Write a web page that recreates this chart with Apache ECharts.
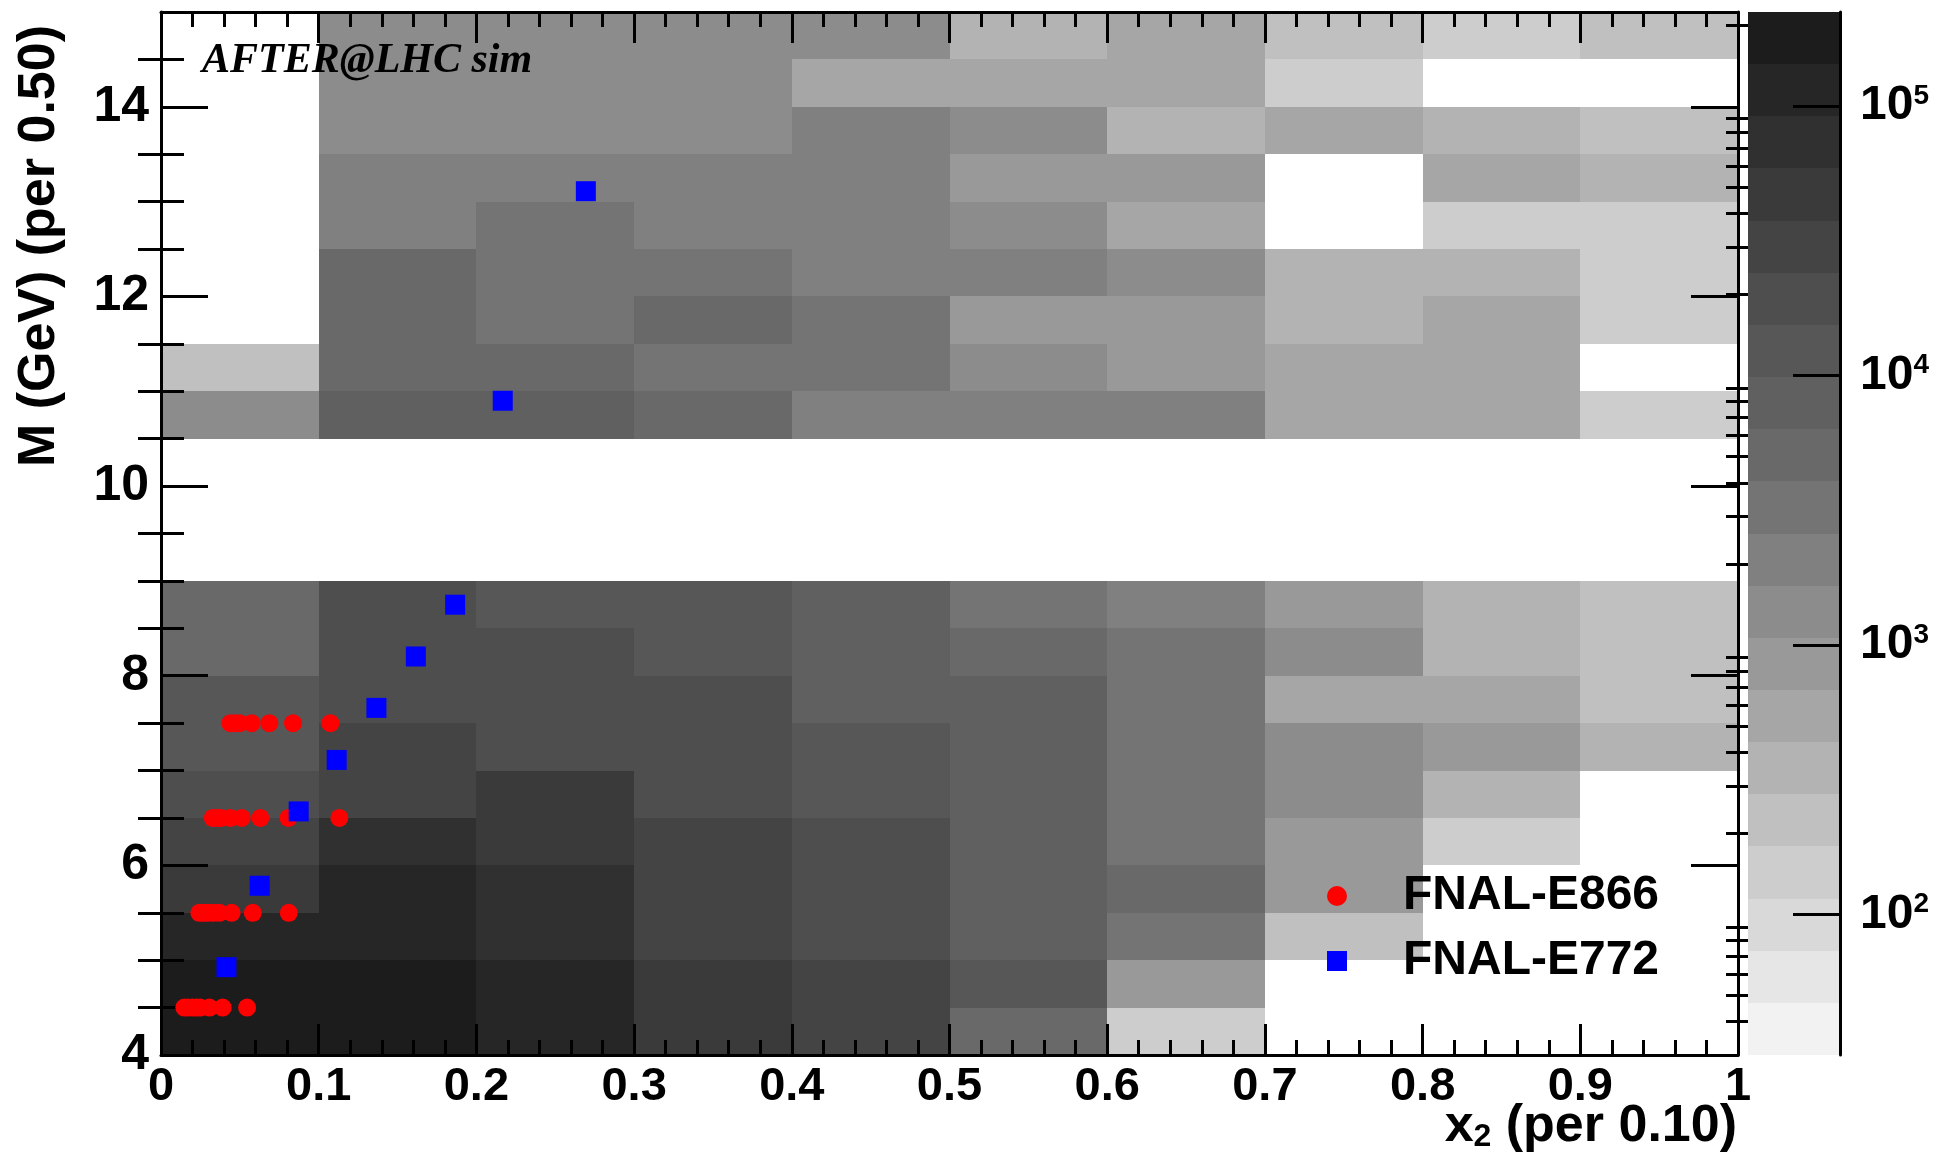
<!DOCTYPE html>
<html>
<head>
<meta charset="utf-8">
<script src="https://cdn.jsdelivr.net/npm/echarts@6/dist/echarts.min.js"></script>
<style>
  html, body { margin: 0; padding: 0; background: #ffffff; }
  #chart { width: 1946px; height: 1159px; }
</style>
</head>
<body>
<div id="chart"></div>
<script>
// ---- 2D histogram binning ----
const x2Edges = [0.0, 0.1, 0.2, 0.3, 0.4, 0.5, 0.6, 0.7, 0.8, 0.9, 1.0];
const massEdges = [4.0, 4.5, 5.0, 5.5, 6.0, 6.5, 7.0, 7.5, 8.0, 8.5, 9.0,
                   9.5, 10.0, 10.5, 11.0, 11.5, 12.0, 12.5, 13.0, 13.5, 14.0, 14.5, 15.0];

// Entries per bin: one row per mass bin (M = 4.0 upwards), one column per x2 bin
const counts = [
  [183000, 176000, 112000, 46000, 29500, 5100, 141, 0, 0, 0],      // 4.0
  [171000, 164000, 109000, 44500, 28800, 12200, 845, 0, 0, 0],     // 4.5
  [118000, 114000, 74500, 30200, 19100, 7800, 3150, 226, 0, 0],    // 5.0
  [47500, 112000, 72800, 29300, 18800, 7950, 5020, 860, 0, 0],     // 5.5
  [30400, 71600, 46200, 29000, 19600, 7700, 3240, 835, 146, 0],    // 6.0
  [19800, 30800, 45700, 18600, 12400, 7850, 3180, 1330, 348, 0],   // 6.5
  [12500, 29700, 19200, 18900, 12100, 7900, 3200, 1310, 850, 352], // 7.0
  [12300, 19500, 18700, 19300, 7950, 7850, 3260, 545, 540, 225],   // 7.5
  [5050, 19200, 18800, 12300, 7900, 5000, 3220, 1320, 355, 222],   // 8.0
  [5150, 19000, 12500, 12200, 8000, 3250, 2070, 840, 345, 220],    // 8.5
  [0, 0, 0, 0, 0, 0, 0, 0, 0, 0],                                  // 9.0
  [0, 0, 0, 0, 0, 0, 0, 0, 0, 0],                                  // 9.5
  [0, 0, 0, 0, 0, 0, 0, 0, 0, 0],                                  // 10.0
  [1330, 7900, 7800, 5080, 2060, 2090, 2040, 550, 542, 143],       // 10.5
  [224, 5060, 5120, 3230, 3190, 1320, 850, 548, 538, 0],           // 11.0
  [0, 5010, 3210, 5090, 3260, 845, 858, 350, 544, 142],            // 11.5
  [0, 5040, 3240, 3200, 2080, 2050, 1310, 348, 352, 140],          // 12.0
  [0, 2070, 3230, 2060, 2080, 1330, 546, 0, 143, 141],             // 12.5
  [0, 2080, 2050, 2070, 2060, 852, 840, 0, 552, 349],              // 13.0
  [0, 1320, 1340, 1310, 2070, 1330, 351, 548, 345, 223],           // 13.5
  [0, 1340, 1320, 1330, 544, 552, 541, 144, 0, 0],                 // 14.0
  [0, 1310, 1330, 1320, 1340, 349, 547, 221, 143, 226]             // 14.5
];

// ---- z colour scale (20 logarithmic contours) ----
const zMin = 30.1;
const zMax = 223400;
const greyLevels = ['#f2f2f2', '#e6e6e6', '#d9d9d9', '#cdcdcd', '#c0c0c0',
                    '#b3b3b3', '#a6a6a6', '#999999', '#8c8c8c', '#808080',
                    '#747474', '#696969', '#606060', '#575757', '#4e4e4e',
                    '#444444', '#3a3a3a', '#303030', '#262626', '#1c1c1c'];
const colorbarMajor = [100, 1000, 10000, 100000];
const colorbarMinor = [40, 50, 60, 70, 80, 90,
                       200, 300, 400, 500, 600, 700, 800, 900,
                       2000, 3000, 4000, 5000, 6000, 7000, 8000, 9000,
                       20000, 30000, 40000, 50000, 60000, 70000, 80000, 90000,
                       200000];

// ---- measurements ----
const e866X2 = [0.0440, 0.0470, 0.0500, 0.0575, 0.0687, 0.0837, 0.1074,
                0.0328, 0.0355, 0.0381, 0.0440, 0.0512, 0.0630, 0.0808, 0.1131,
                0.0243, 0.0268, 0.0296, 0.0330, 0.0370, 0.0448, 0.0582, 0.0810,
                0.0148, 0.0172, 0.0201, 0.0225, 0.0249, 0.0307, 0.0391, 0.0546];
const e866M  = [7.5, 7.5, 7.5, 7.5, 7.5, 7.5, 7.5,
                6.5, 6.5, 6.5, 6.5, 6.5, 6.5, 6.5, 6.5,
                5.5, 5.5, 5.5, 5.5, 5.5, 5.5, 5.5, 5.5,
                4.5, 4.5, 4.5, 4.5, 4.5, 4.5, 4.5, 4.5];
const e772X2 = [0.0415, 0.0626, 0.0873, 0.1114, 0.1366, 0.1616, 0.1865, 0.2167, 0.2694];
const e772M  = [4.926, 5.785, 6.569, 7.112, 7.661, 8.203, 8.749, 10.90, 13.11];

// ---- axis tick positions ----
const massMajorTicks = [4, 6, 8, 10, 12, 14];
const massMinorTicks = [4.5, 5, 5.5, 6.5, 7, 7.5, 8.5, 9, 9.5, 10.5, 11, 11.5,
                        12.5, 13, 13.5, 14.5];

// ---- derived structures ----
const FONT = '"Liberation Sans", Arial, Helvetica, sans-serif';
const logStep = (Math.log10(zMax) - Math.log10(zMin)) / greyLevels.length;
const levelEdges = greyLevels.map((c, k) => Math.pow(10, Math.log10(zMin) + k * logStep))
  .concat([zMax]);

const cellData = [];
counts.forEach((row, iy) => {
  row.forEach((n, ix) => {
    if (n > 0) {
      cellData.push([x2Edges[ix], x2Edges[ix + 1], massEdges[iy], massEdges[iy + 1], n]);
    }
  });
});
const colorbarData = greyLevels.map((c, k) => [k, levelEdges[k], levelEdges[k + 1]]);
const e866Data = e866X2.map((x, i) => [x, e866M[i]]);
const e772Data = e772X2.map((x, i) => [x, e772M[i]]);

const frame = { show: true, onZero: false, lineStyle: { color: '#000', width: 3 } };
const tickStyle = { color: '#000', width: 3 };

function x2Axis(position, showLabels) {
  return {
    type: 'value', gridIndex: 0, position: position, min: 0, max: 1, interval: 0.1,
    z: 3,
    axisLine: frame,
    axisTick: { show: true, inside: true, length: 31, lineStyle: tickStyle },
    minorTick: { show: true, splitNumber: 5, length: 15, lineStyle: tickStyle },
    splitLine: { show: false },
    axisLabel: {
      show: showLabels, margin: 9, color: '#000', fontFamily: FONT,
      fontWeight: 'bold', fontSize: 47,
      formatter: v => (v === 0 ? '0' : v === 1 ? '1' : v.toFixed(1))
    }
  };
}

function massAxis(position, major, showLabels) {
  return {
    type: 'value', gridIndex: 0, position: position, min: 4, max: 15,
    z: 3,
    axisLine: major ? frame : { show: false },
    axisTick: {
      show: true, inside: true, length: major ? 47 : 23, lineStyle: tickStyle,
      customValues: major ? massMajorTicks : massMinorTicks
    },
    splitLine: { show: false },
    axisLabel: {
      show: showLabels, margin: 12, color: '#000', fontFamily: FONT,
      fontWeight: 'bold', fontSize: 50, customValues: massMajorTicks
    }
  };
}

function colorbarAxis(major) {
  return {
    type: 'log', logBase: 10, gridIndex: 1, position: 'right', min: zMin, max: zMax,
    z: 3,
    axisLine: major ? frame : { show: false },
    axisTick: {
      show: true, inside: true, length: major ? 47 : 22, lineStyle: tickStyle,
      customValues: major ? colorbarMajor : colorbarMinor
    },
    splitLine: { show: false },
    axisLabel: {
      show: major, margin: 20, customValues: colorbarMajor,
      formatter: v => '{b|10}{s|' + Math.round(Math.log10(v)) + '}',
      rich: {
        b: { fontFamily: FONT, fontWeight: 'bold', fontSize: 48, lineHeight: 48, color: '#000' },
        s: { fontFamily: FONT, fontWeight: 'bold', fontSize: 28, lineHeight: 20,
             verticalAlign: 'top', color: '#000' }
      }
    }
  };
}

const chart = echarts.init(document.getElementById('chart'), null, { renderer: 'canvas' });

chart.setOption({
  backgroundColor: '#ffffff',
  animation: false,
  grid: [
    { left: 161, top: 12, width: 1577, height: 1043 },
    { left: 1748, top: 12, width: 92, height: 1043 }
  ],
  xAxis: [
    x2Axis('bottom', true),
    x2Axis('top', false),
    { type: 'value', gridIndex: 1, min: 0, max: 1, show: false }
  ],
  yAxis: [
    massAxis('left', true, true),
    massAxis('left', false, false),
    massAxis('right', true, false),
    massAxis('right', false, false),
    colorbarAxis(true),
    colorbarAxis(false)
  ],
  visualMap: {
    type: 'piecewise', show: false, seriesIndex: 0, dimension: 4,
    pieces: greyLevels.map((c, k) => ({ gte: levelEdges[k], lt: levelEdges[k + 1], color: c }))
  },
  legend: {
    orient: 'vertical', left: 1322, top: 867,
    itemWidth: 122, itemHeight: 20, itemGap: 17,
    symbolKeepAspect: true,
    selectedMode: false,
    textStyle: { fontFamily: FONT, fontWeight: 'bold', fontSize: 48, lineHeight: 48, color: '#000' },
    data: [
      { name: 'FNAL-E866', icon: 'circle' },
      { name: 'FNAL-E772', icon: 'path://M0,0L10,0L10,10L0,10Z' }
    ]
  },
  series: [
    {
      type: 'custom', name: 'AFTER@LHC sim', coordinateSystem: 'cartesian2d',
      xAxisIndex: 0, yAxisIndex: 0, z: 1,
      encode: { x: [0, 1], y: [2, 3] },
      data: cellData,
      renderItem: (params, api) => {
        const p0 = api.coord([api.value(0), api.value(3)]);
        const p1 = api.coord([api.value(1), api.value(2)]);
        const x0 = Math.round(p0[0]), y0 = Math.round(p0[1]);
        const x1 = Math.round(p1[0]), y1 = Math.round(p1[1]);
        return {
          type: 'rect',
          shape: { x: x0, y: y0, width: x1 - x0, height: y1 - y0 },
          style: { fill: api.visual('color') }
        };
      }
    },
    {
      type: 'custom', name: 'colour scale', coordinateSystem: 'cartesian2d',
      xAxisIndex: 2, yAxisIndex: 4, z: 1,
      encode: { y: [1, 2] },
      data: colorbarData,
      renderItem: (params, api) => {
        const p0 = api.coord([0, api.value(2)]);
        const p1 = api.coord([1, api.value(1)]);
        const x0 = Math.round(p0[0]), y0 = Math.round(p0[1]);
        const x1 = Math.round(p1[0]), y1 = Math.round(p1[1]);
        return {
          type: 'rect',
          shape: { x: x0, y: y0, width: x1 - x0, height: y1 - y0 },
          style: { fill: greyLevels[api.value(0)] }
        };
      }
    },
    {
      type: 'scatter', name: 'FNAL-E866', xAxisIndex: 0, yAxisIndex: 0, z: 4,
      symbol: 'circle', symbolSize: 18,
      itemStyle: { color: '#ff0000', opacity: 1 },
      data: e866Data
    },
    {
      type: 'scatter', name: 'FNAL-E772', xAxisIndex: 0, yAxisIndex: 0, z: 4,
      symbol: 'rect', symbolSize: 20,
      itemStyle: { color: '#0000ff', opacity: 1 },
      data: e772Data
    }
  ],
  graphic: [
    {
      type: 'text', x: 202, y: 61, z: 10,
      style: {
        text: 'AFTER@LHC sim', fill: '#000',
        fontFamily: '"Liberation Serif", "Times New Roman", Times, serif',
        fontStyle: 'italic', fontWeight: 'bold', fontSize: 42,
        align: 'left', verticalAlign: 'middle'
      }
    },
    {
      type: 'text', x: 1737, y: 1127, z: 10,
      style: {
        text: '{v|x}{sub|2}{v| (per 0.10)}',
        align: 'right', verticalAlign: 'middle',
        rich: {
          v: { fontFamily: FONT, fontWeight: 'bold', fontSize: 52, lineHeight: 52, fill: '#000' },
          sub: { fontFamily: FONT, fontWeight: 'bold', fontSize: 32, lineHeight: 22,
                 verticalAlign: 'bottom', fill: '#000' }
        }
      }
    },
    {
      type: 'text', x: 40, y: 25, rotation: Math.PI / 2, z: 10,
      style: {
        text: 'M (GeV) (per 0.50)', fill: '#000',
        fontFamily: FONT, fontWeight: 'bold', fontSize: 52,
        align: 'right', verticalAlign: 'middle'
      }
    }
  ]
});
</script>
</body>
</html>
